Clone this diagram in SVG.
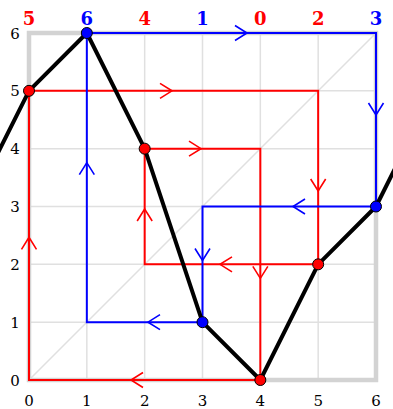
<svg xmlns="http://www.w3.org/2000/svg" xmlns:xlink="http://www.w3.org/1999/xlink" width="393" height="409" viewBox="0 0 393 409">
<style>
.grid{stroke:#e0e0e0;stroke-width:1.5;fill:none}
.frame{stroke:#d3d3d3;stroke-width:4.5;fill:none}
.red{stroke:#ff0000;stroke-width:2;fill:none}
.blue{stroke:#0000ff;stroke-width:2;fill:none}
.chr{stroke:#ff0000;stroke-width:1.6;fill:none}
.chb{stroke:#0000ff;stroke-width:1.6;fill:none}
.perm{stroke:#000;stroke-width:4;fill:none;stroke-linejoin:round}
.dr{fill:#ff0000;stroke:#000;stroke-width:1}
.db{fill:#0000ff;stroke:#000;stroke-width:1}
.ax{font-family:"DejaVu Serif",serif;font-size:15px;fill:#000}
.top{font-family:"DejaVu Serif",serif;font-size:18px;font-weight:bold;text-anchor:middle}
</style>
<defs>
<path id="chev" d="M-12,-7.5 L0,0 L-12,7.5"/>
</defs>
<g id="grid">
<path class="grid" d="M86.83,33V380M144.67,33V380M202.5,33V380M260.33,33V380M318.17,33V380M29,322.17H376M29,264.33H376M29,206.5H376M29,148.67H376M29,90.83H376M29,380L376,33"/>
<rect class="frame" x="29" y="33" width="347" height="347"/>
</g>
<g id="connectors">
<path id="red-cycle" class="red" d="M29,90.83H318.17V264.33H144.67V148.67H260.33V380H29Z"/>
<path id="blue-cycle" class="blue" d="M86.83,33H376V206.5H202.5V322.17H86.83Z"/>
<g id="arrows-red" class="chr">
<use xlink:href="#chev" transform="translate(172,90.83)"/>
<use xlink:href="#chev" transform="translate(318.17,191) rotate(90)"/>
<use xlink:href="#chev" transform="translate(220,264.33) rotate(180)"/>
<use xlink:href="#chev" transform="translate(144.67,209) rotate(-90)"/>
<use xlink:href="#chev" transform="translate(201,148.67)"/>
<use xlink:href="#chev" transform="translate(260.33,278.3) rotate(90)"/>
<use xlink:href="#chev" transform="translate(131,380) rotate(180)"/>
<use xlink:href="#chev" transform="translate(29,237.3) rotate(-90)"/>
</g>
<g id="arrows-blue" class="chb">
<use xlink:href="#chev" transform="translate(247,33)"/>
<use xlink:href="#chev" transform="translate(376,115) rotate(90)"/>
<use xlink:href="#chev" transform="translate(293,206.5) rotate(180)"/>
<use xlink:href="#chev" transform="translate(202.5,260.5) rotate(90)"/>
<use xlink:href="#chev" transform="translate(148,322.17) rotate(180)"/>
<use xlink:href="#chev" transform="translate(86.83,162.7) rotate(-90)"/>
</g>
<polyline id="permutation" class="perm" points="-28.83,206.5 29,90.83 86.83,33 144.67,148.67 202.5,322.17 260.33,380 318.17,264.33 376,206.5 433.83,90.83"/>
</g>
<g id="points">
<circle id="p0" class="dr" cx="29" cy="90.83" r="5.5"/>
<circle id="p1" class="db" cx="86.83" cy="33" r="5.5"/>
<circle id="p2" class="dr" cx="144.67" cy="148.67" r="5.5"/>
<circle id="p3" class="db" cx="202.5" cy="322.17" r="5.5"/>
<circle id="p4" class="dr" cx="260.33" cy="380" r="5.5"/>
<circle id="p5" class="dr" cx="318.17" cy="264.33" r="5.5"/>
<circle id="p6" class="db" cx="376" cy="206.5" r="5.5"/>
</g>
<g id="top-labels" class="top">
<text x="29" y="25" fill="#ff0000">5</text>
<text x="86.83" y="25" fill="#0000ff">6</text>
<text x="144.67" y="25" fill="#ff0000">4</text>
<text x="202.5" y="25" fill="#0000ff">1</text>
<text x="260.33" y="25" fill="#ff0000">0</text>
<text x="318.17" y="25" fill="#ff0000">2</text>
<text x="376" y="25" fill="#0000ff">3</text>
</g>
<g id="y-labels" class="ax" text-anchor="middle">
<text x="15" y="385.5">0</text>
<text x="15" y="327.7">1</text>
<text x="15" y="269.8">2</text>
<text x="15" y="212">3</text>
<text x="15" y="154.2">4</text>
<text x="15" y="96.3">5</text>
<text x="15" y="38.5">6</text>
</g>
<g id="x-labels" class="ax" text-anchor="middle">
<text x="29" y="406">0</text>
<text x="86.83" y="406">1</text>
<text x="144.67" y="406">2</text>
<text x="202.5" y="406">3</text>
<text x="260.33" y="406">4</text>
<text x="318.17" y="406">5</text>
<text x="376" y="406">6</text>
</g>
</svg>
